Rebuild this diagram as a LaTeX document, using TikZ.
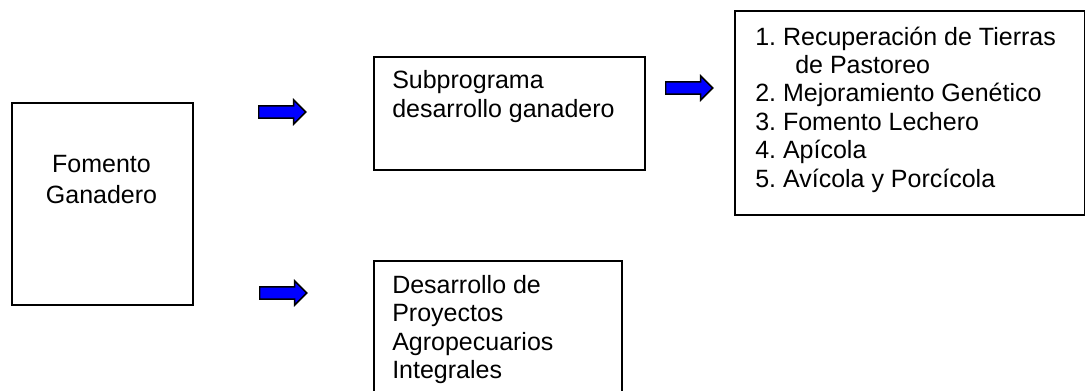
\documentclass[tikz,border=0pt]{standalone}
\usepackage{fontspec}
\setmainfont{Liberation Sans}
\usetikzlibrary{shapes.arrows}
\frenchspacing
\begin{document}
\begin{tikzpicture}[x=0.75pt,y=-0.75pt,
  box/.style={draw=black, line width=1.2pt, inner sep=0pt, anchor=north west},
  txt/.style={anchor=base west, inner sep=0pt, font=\fontsize{18.75pt}{21.4pt}\selectfont},
  ctxt/.style={txt, anchor=base},
  blockarrow/.style={single arrow, draw=black, fill=blue, line width=1.1pt,
    minimum height=35.25pt, inner ysep=4.1pt, inner xsep=0pt,
    single arrow head extend=4.5pt, anchor=west}]
\useasboundingbox (0,0) rectangle (1085,390);
\clip (0,0) rectangle (1085,390);
% boxes
\node[box, minimum width=135.75pt, minimum height=151.5pt] (A) at (11,102) {};
\node[box, minimum width=203.25pt, minimum height=84.75pt] (B) at (373,56) {};
\node[box, minimum width=262.5pt, minimum height=153pt] (C) at (734,10) {};
\node[box, minimum width=186pt, minimum height=105pt] (D) at (373,260) {};
% texts
\node[ctxt] (a1) at (101.5,172) {Fomento};
\node[ctxt] (a2) at (101.5,203) {Ganadero};
\node[txt] (b1) at (392,88) {Subprograma};
\node[txt] (b2) at (392,117) {desarrollo ganadero};
\node[txt] (c1) at (755,45) {1. Recuperación de Tierras};
\node[txt] (c1b) at (795,73.4) {de Pastoreo};
\node[txt] (c2) at (755,101.8) {2. Mejoramiento Genético};
\node[txt] (c3) at (755,130.2) {3. Fomento Lechero};
\node[txt] (c4) at (755,158.6) {4. Apícola};
\node[txt] (c5) at (755,187) {5. Avícola y Porcícola};
\node[txt] (d1) at (392,293) {Desarrollo de};
\node[txt] (d2) at (392,321.5) {Proyectos};
\node[txt] (d3) at (392,350) {Agropecuarios};
\node[txt] (d4) at (392,378.5) {Integrales};
% block arrows
\node[blockarrow] (r1) at (258,112) {};
\node[blockarrow] (r2) at (259,293) {};
\node[blockarrow] (r3) at (665,88) {};
\end{tikzpicture}
\end{document}
